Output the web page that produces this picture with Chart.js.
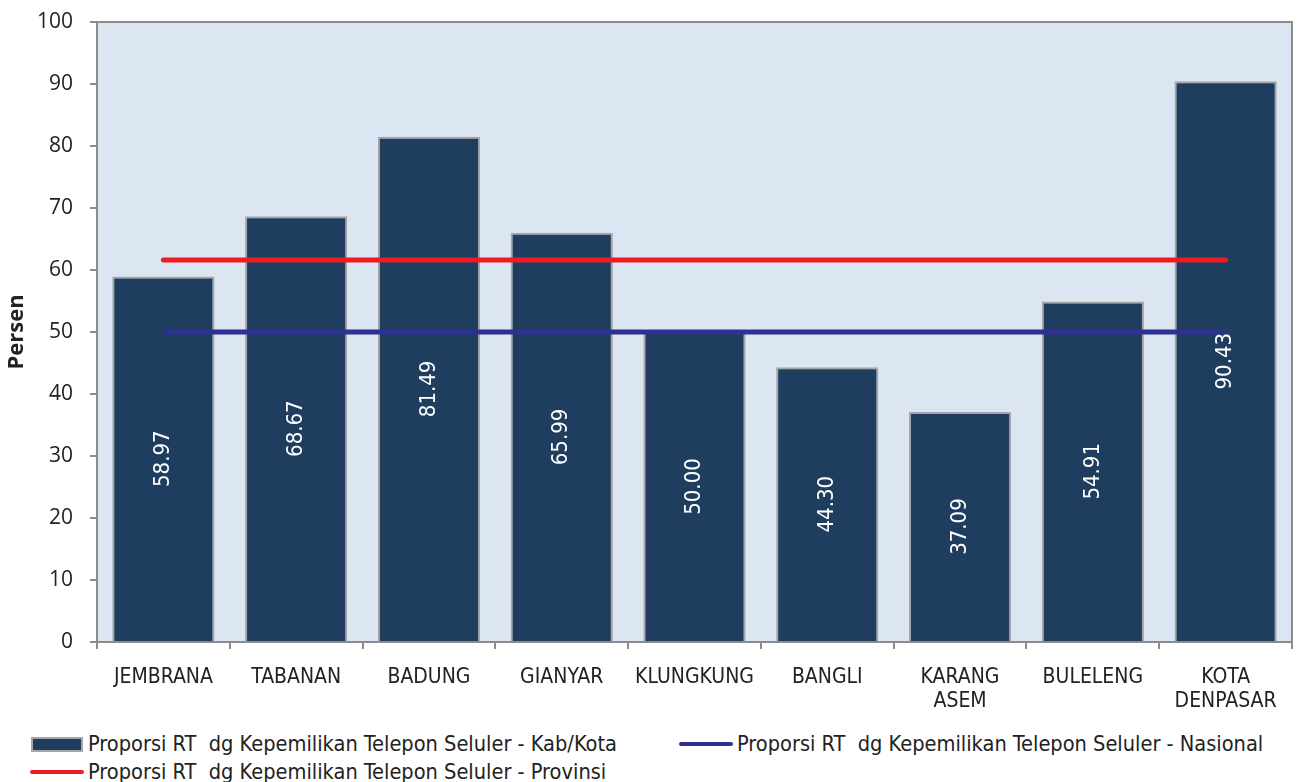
<!DOCTYPE html>
<html>
<head>
<meta charset="utf-8">
<script src="https://cdn.jsdelivr.net/npm/chart.js@4"></script>
<style>
  body { margin: 0; background: #fff; width: 1300px; height: 782px; position: relative; overflow: hidden; }
  #wrap { position: absolute; left: 0; top: 0; width: 1300px; height: 720px; }
  .lg { position: absolute; font: 21.6px "DejaVu Sans Condensed", "DejaVu Sans", sans-serif; color: #222; white-space: pre; line-height: 26px; }
  .sw { position: absolute; }
</style>
</head>
<body>
<div id="wrap"><canvas id="rtChart"></canvas></div>
<div id="legend"></div>
<script>
// data
const kabKota = ['JEMBRANA', 'TABANAN', 'BADUNG', 'GIANYAR', 'KLUNGKUNG', 'BANGLI', ['KARANG', 'ASEM'], 'BULELENG', ['KOTA', 'DENPASAR']];
const nilaiKab = [58.97, 68.67, 81.49, 65.99, 50.00, 44.30, 37.09, 54.91, 90.43];
const nilaiNasional = [50.0, 50.0, 50.0, 50.0, 50.0, 50.0, 50.0, 50.0, 50.0];
const nilaiProvinsi = [61.6, 61.6, 61.6, 61.6, 61.6, 61.6, 61.6, 61.6, 61.6];
const yTicks = [0, 10, 20, 30, 40, 50, 60, 70, 80, 90, 100];

const labelKab = 'Proporsi RT  dg Kepemilikan Telepon Seluler - Kab/Kota';
const labelNas = 'Proporsi RT  dg Kepemilikan Telepon Seluler - Nasional';
const labelProv = 'Proporsi RT  dg Kepemilikan Telepon Seluler - Provinsi';

const barColor = '#1f3e5f';
const barBorder = '#a6a6a6';
const redColor = '#ee1c25';
const blueColor = '#2e3192';
const axisColor = '#8c8c8c';
const condFont = '"DejaVu Sans Condensed", "DejaVu Sans", sans-serif';

// latar area plot + garis tepi atas/kanan
const plotBg = {
  id: 'plotBg',
  beforeDraw(chart) {
    const { ctx, chartArea: a } = chart;
    ctx.save();
    ctx.fillStyle = '#dce6f2';
    ctx.fillRect(a.left, a.top, a.right - a.left, a.bottom - a.top);
    ctx.strokeStyle = axisColor;
    ctx.lineWidth = 2;
    ctx.beginPath();
    ctx.moveTo(a.left, a.top);
    ctx.lineTo(a.right, a.top);
    ctx.lineTo(a.right, a.bottom);
    ctx.stroke();
    ctx.restore();
  }
};

// angka putih tegak di dalam batang
const barValues = {
  id: 'barValues',
  afterDatasetsDraw(chart) {
    const { ctx } = chart;
    const meta = chart.getDatasetMeta(2); // dataset batang
    ctx.save();
    ctx.fillStyle = '#ffffff';
    ctx.font = '22px ' + condFont;
    ctx.textAlign = 'center';
    ctx.textBaseline = 'middle';
    meta.data.forEach((bar, i) => {
      const midY = (bar.y + bar.base) / 2;
      ctx.save();
      ctx.translate(bar.x, midY);
      ctx.rotate(-Math.PI / 2);
      ctx.fillText(nilaiKab[i].toFixed(2), 0, 0);
      ctx.restore();
    });
    ctx.restore();
  }
};

const ctx = document.getElementById('rtChart');
new Chart(ctx, {
  type: 'bar',
  data: {
    labels: kabKota,
    datasets: [
      {
        type: 'line',
        label: labelProv,
        data: nilaiProvinsi,
        borderColor: redColor,
        borderWidth: 5,
        borderCapStyle: 'round',
        pointRadius: 0,
        order: 0
      },
      {
        type: 'line',
        label: labelNas,
        data: nilaiNasional,
        borderColor: blueColor,
        borderWidth: 5,
        borderCapStyle: 'butt',
        pointRadius: 0,
        order: 1
      },
      {
        label: labelKab,
        data: nilaiKab,
        backgroundColor: barColor,
        borderColor: barBorder,
        borderWidth: 2,
        borderSkipped: 'bottom',
        barPercentage: 0.77,
        categoryPercentage: 1.0,
        order: 2
      }
    ]
  },
  options: {
    responsive: true,
    maintainAspectRatio: false,
    animation: false,
    layout: { padding: { top: 22, right: 8, left: 0, bottom: 0 } },
    plugins: {
      legend: { display: false },
      tooltip: { enabled: false }
    },
    scales: {
      x: {
        offset: true,
        border: { color: axisColor, width: 2 },
        grid: { drawOnChartArea: false, tickLength: 7, color: axisColor, lineWidth: 2, offset: true },
        ticks: {
          color: '#222',
          padding: 16,
          maxRotation: 0,
          autoSkip: false,
          font: { family: condFont, size: 21, lineHeight: 1.15 }
        },
        afterFit(scale) { scale.height = 78; }
      },
      y: {
        min: 0,
        max: 100,
        afterBuildTicks(scale) { scale.ticks = yTicks.map(v => ({ value: v })); },
        border: { color: axisColor, width: 2 },
        grid: { drawOnChartArea: false, tickLength: 7, color: axisColor, lineWidth: 2 },
        ticks: {
          color: '#222',
          padding: 17,
          font: { family: '"Open Sans", sans-serif', size: 21 }
        },
        title: {
          display: true,
          text: 'Persen',
          color: '#222',
          padding: { top: 4, bottom: 4 },
          font: { family: '"Open Sans", sans-serif', size: 22, weight: 'bold' }
        },
        afterFit(scale) {
          scale.width = 97;
          scale.paddingTop = 0;
          scale.paddingBottom = 0;
        }
      }
    }
  },
  plugins: [plotBg, barValues]
});

// legenda html
const legend = document.getElementById('legend');
function addItem(x, y, kind, color, text) {
  const sw = document.createElement('div');
  sw.className = 'sw';
  if (kind === 'box') {
    sw.style.cssText = `left:${x}px;top:${y - 7}px;width:48px;height:11px;background:${barColor};border:2px solid ${barBorder};`;
  } else {
    sw.style.cssText = `left:${x}px;top:${y - 2}px;width:54px;height:4px;background:${color};border-radius:2px;`;
  }
  legend.appendChild(sw);
  const t = document.createElement('div');
  t.className = 'lg';
  t.style.left = (kind === 'box' ? x + 57 : x + 58) + 'px';
  t.style.top = (y - 13) + 'px';
  t.textContent = text;
  legend.appendChild(t);
}
addItem(31, 744, 'box', barColor, labelKab);
addItem(679, 744, 'line', blueColor, labelNas);
addItem(30, 772, 'line', redColor, labelProv);
</script>
</body>
</html>
